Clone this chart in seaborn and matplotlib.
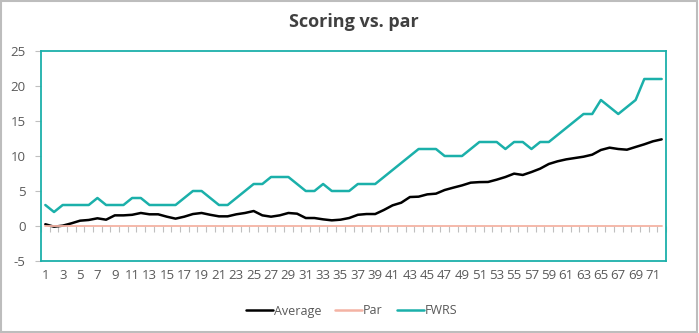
import numpy as np
import pandas as pd
import matplotlib
matplotlib.use("Agg")
import matplotlib.pyplot as plt
import seaborn as sns
from matplotlib.patches import Rectangle

rounds = list(range(1, 73))
average = [0.25, -0.1, 0.05, 0.38, 0.76, 0.86, 1.1, 0.9, 1.52, 1.52,
           1.6, 1.86, 1.67, 1.67, 1.33, 1.05, 1.33, 1.71, 1.86, 1.6,
           1.38, 1.38, 1.67, 1.86, 2.14, 1.52, 1.33, 1.52, 1.86, 1.76,
           1.14, 1.14, 0.95, 0.81, 0.9, 1.14, 1.6, 1.71, 1.71, 2.29,
           2.95, 3.33, 4.14, 4.19, 4.52, 4.62, 5.14, 5.48, 5.8, 6.19,
           6.27, 6.29, 6.62, 7.0, 7.48, 7.29, 7.71, 8.19, 8.86, 9.24,
           9.52, 9.71, 9.9, 10.19, 10.86, 11.19, 11.0, 10.9, 11.29, 11.67,
           12.1, 12.38]
par = [0] * 72
fwrs = [3, 2, 3, 3, 3, 3, 4, 3, 3, 3,
        4, 4, 3, 3, 3, 3, 4, 5, 5, 4,
        3, 3, 4, 5, 6, 6, 7, 7, 7, 6,
        5, 5, 6, 5, 5, 5, 6, 6, 6, 7,
        8, 9, 10, 11, 11, 11, 10, 10, 10, 11,
        12, 12, 12, 11, 12, 12, 11, 12, 12, 13,
        14, 15, 16, 16, 18, 17, 16, 17, 18, 21,
        21, 21]
series_names = ["Average", "Par", "FWRS"]
colors = ["#000000", "#F4B3A4", "#1BB0AA"]
y_ticks = [-5, 0, 5, 10, 15, 20, 25]
x_labels = [str(r) for r in rounds]

sns.set_style("white")
plt.rcParams["font.family"] = ["Open Sans", "DejaVu Sans"]

df = pd.DataFrame({
    "pos": np.tile(np.arange(len(rounds)), 3),
    "value": average + par + fwrs,
    "series": np.repeat(series_names, len(rounds)),
})

fig = plt.figure(figsize=(6.99, 3.33), dpi=100)
ax = fig.add_axes([41 / 699, 1 - 261 / 333, 625 / 699, 210 / 333])

sns.lineplot(data=df, x="pos", y="value", hue="series", hue_order=series_names,
             palette=colors, linewidth=1.8, ax=ax, legend=True)
for line, name in zip(ax.get_lines(), series_names):
    if name == "Par":
        line.set_linewidth(1.3)
    line.set_solid_capstyle("round")

ax.set_xlim(-0.5, len(rounds) - 0.5)
ax.set_ylim(y_ticks[0], y_ticks[-1])
ax.set_yticks(y_ticks)
ax.set_yticklabels([str(t) for t in y_ticks])
ax.set_xticks(np.arange(0, len(rounds), 2))
ax.set_xticklabels(x_labels[::2])
ax.set_xlabel("")
ax.set_ylabel("")

for s in ax.spines.values():
    s.set_color("#1BB0AA")
    s.set_linewidth(1.3)

ax.tick_params(axis="x", length=0, pad=6, labelsize=9.5, labelcolor="#595959")
ax.tick_params(axis="y", length=4, width=0.8, color="#BFBFBF", pad=7,
               labelsize=9.5, labelcolor="#595959", left=True)

# category tick marks on the zero line
sec = ax.secondary_xaxis(1 / 6)
sec.spines["bottom"].set_visible(False)
sec.set_xticks(np.arange(-0.5, len(rounds), 1.0))
sec.set_xticklabels([])
sec.tick_params(axis="x", length=4, width=0.8, color="#BFBFBF", direction="out")

ax.set_title("Scoring vs. par", fontsize=13, fontweight="bold", color="#404040", pad=17)

handles, labels = ax.get_legend_handles_labels()
ax.legend(handles, labels, loc="center", bbox_to_anchor=(0.503, 1 - 311 / 333),
          bbox_transform=fig.transFigure, ncol=3, frameon=False, fontsize=9,
          handlelength=2.15, handletextpad=0.1, columnspacing=1.1,
          labelcolor="#595959")

fig.add_artist(Rectangle((0.002, 0.004), 0.995, 0.992, transform=fig.transFigure,
                         fill=False, edgecolor="#BDBDBD", linewidth=1.5))

fig.savefig("out.png", dpi=100)
